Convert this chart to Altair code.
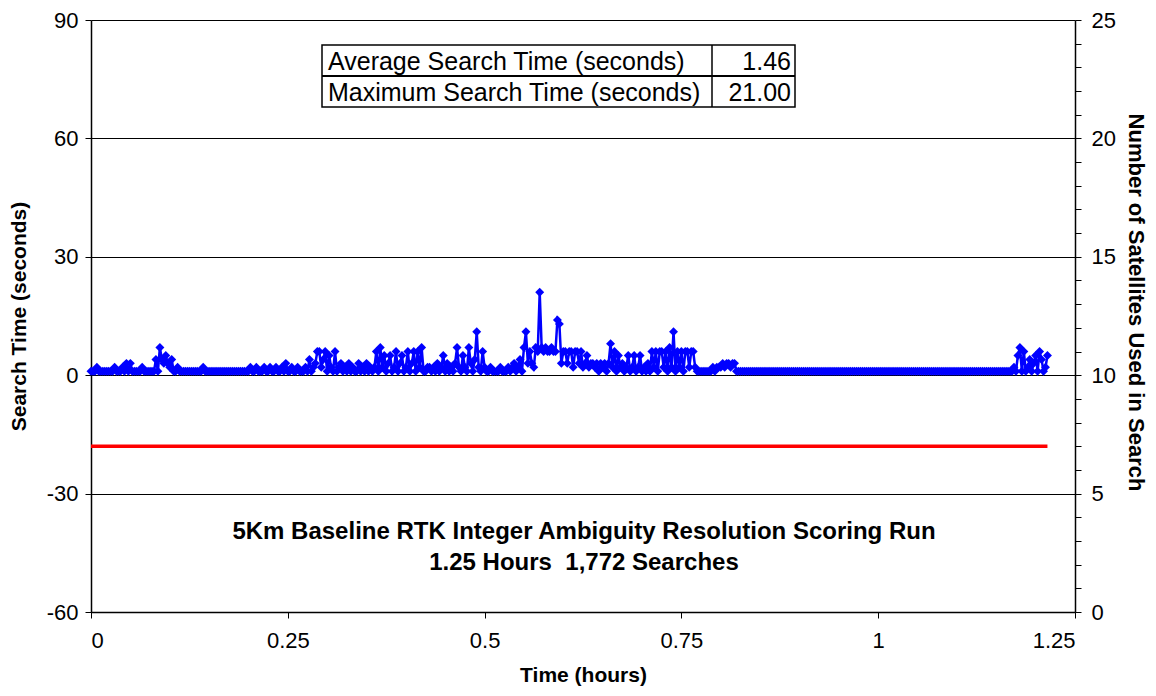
import altair as alt
import pandas as pd

# ---- data ----
TIME_STEP_HOURS = 0.0025  # spacing of the sampled searches along the time axis
SEARCH_SECONDS = [
    1, 1, 1, 2, 1, 1, 1, 1, 1, 1, 1, 1, 2, 1, 1, 1, 2, 1, 3, 1,
    3, 1, 1, 1, 1, 1, 2, 1, 1, 1, 1, 1, 1, 4, 1, 7, 4, 3, 5, 3,
    2, 4, 1, 1, 2, 1, 1, 1, 1, 1, 1, 1, 1, 1, 1, 1, 1, 2, 1, 1,
    1, 1, 1, 1, 1, 1, 1, 1, 1, 1, 1, 1, 1, 1, 1, 1, 1, 1, 1, 1,
    1, 2, 1, 1, 2, 1, 1, 1, 2, 1, 1, 2, 1, 1, 2, 1, 1, 2, 1, 3,
    1, 1, 2, 1, 1, 2, 1, 1, 1, 2, 1, 4, 1, 2, 3, 6, 6, 2, 4, 6,
    1, 5, 2, 1, 6, 1, 2, 3, 1, 2, 1, 3, 1, 2, 1, 1, 3, 1, 2, 1,
    3, 1, 2, 1, 2, 6, 1, 7, 2, 5, 1, 3, 5, 1, 2, 6, 1, 3, 5, 1,
    2, 6, 1, 3, 6, 1, 6, 2, 7, 1, 1, 2, 2, 1, 2, 1, 3, 1, 2, 5,
    1, 3, 1, 2, 1, 3, 7, 2, 1, 5, 2, 1, 7, 3, 1, 4, 11, 2, 1, 6,
    2, 1, 1, 2, 1, 1, 1, 1, 2, 1, 1, 1, 2, 1, 2, 3, 1, 2, 4, 1,
    7, 11, 3, 6, 3, 2, 7, 6, 21, 7, 6, 7, 6, 6, 7, 6, 6, 14, 13, 3,
    6, 6, 3, 6, 6, 2, 6, 6, 3, 6, 2, 3, 5, 2, 3, 3, 2, 3, 1, 3,
    2, 3, 1, 3, 8, 2, 6, 1, 5, 2, 3, 1, 2, 5, 1, 2, 5, 1, 2, 5,
    1, 2, 1, 3, 1, 6, 2, 6, 1, 6, 6, 2, 6, 1, 7, 2, 11, 1, 6, 2,
    6, 1, 6, 6, 2, 6, 6, 2, 1, 1, 1, 1, 1, 1, 1, 1, 2, 1, 2, 2,
    2, 3, 2, 3, 3, 2, 3, 3, 1, 1, 1, 1, 1, 1, 1, 1, 1, 1, 1, 1,
    1, 1, 1, 1, 1, 1, 1, 1, 1, 1, 1, 1, 1, 1, 1, 1, 1, 1, 1, 1,
    1, 1, 1, 1, 1, 1, 1, 1, 1, 1, 1, 1, 1, 1, 1, 1, 1, 1, 1, 1,
    1, 1, 1, 1, 1, 1, 1, 1, 1, 1, 1, 1, 1, 1, 1, 1, 1, 1, 1, 1,
    1, 1, 1, 1, 1, 1, 1, 1, 1, 1, 1, 1, 1, 1, 1, 1, 1, 1, 1, 1,
    1, 1, 1, 1, 1, 1, 1, 1, 1, 1, 1, 1, 1, 1, 1, 1, 1, 1, 1, 1,
    1, 1, 1, 1, 1, 1, 1, 1, 1, 1, 1, 1, 1, 1, 1, 1, 1, 1, 1, 1,
    1, 1, 1, 1, 1, 1, 1, 1, 1, 2, 1, 5, 7, 1, 6, 1, 2, 4, 1, 3,
    5, 1, 6, 4, 1, 2, 5,
]
SATELLITES_USED = 7

X_TICKS = [0, 0.25, 0.5, 0.75, 1, 1.25]
Y_LEFT_TICKS = [-60, -30, 0, 30, 60, 90]
Y_RIGHT_TICKS = list(range(0, 26))

TABLE_LABELS = ["Average Search Time (seconds)", "Maximum Search Time (seconds)"]
TABLE_VALUES = ["1.46", "21.00"]
NOTE_LINES = ["5Km Baseline RTK Integer Ambiguity Resolution Scoring Run",
              "1.25 Hours\u00a0\u00a01,772 Searches"]

df = pd.DataFrame({
    "t": [i * TIME_STEP_HOURS for i in range(len(SEARCH_SECONDS))],
    "v": SEARCH_SECONDS,
})
df["sats"] = SATELLITES_USED

FONT = "Liberation Sans"
W, H = 984, 592
PAD_TOP = 12
PAD_BOTTOM = 76

x_enc = alt.X("t:Q", scale=alt.Scale(domain=[0, 1.25], nice=False),
              axis=alt.Axis(values=X_TICKS, title="Time (hours)", grid=False,
                            labelExpr="format(datum.value, '~g')",
                            labelPadding=12, titlePadding=13))

blue = alt.Chart(df).mark_line(
    color="#0000FF", strokeWidth=2.5,
    point=alt.OverlayMarkDef(shape="diamond", size=80, filled=True, color="#0000FF"),
).encode(
    x=x_enc,
    y=alt.Y("v:Q", scale=alt.Scale(domain=[-60, 90], nice=False),
            axis=alt.Axis(values=Y_LEFT_TICKS, title="Search Time (seconds)",
                          labelExpr="datum.value < 0 ? '-' + abs(datum.value) : '' + datum.value",
                          grid=True, gridColor="#000000", gridWidth=1, gridOpacity=1,
                          labelPadding=7, titlePadding=17)),
)

red = alt.Chart(df).mark_line(color="#FF0000", strokeWidth=3.5).encode(
    x=alt.X("t:Q", scale=alt.Scale(domain=[0, 1.25], nice=False)),
    y=alt.Y("sats:Q", scale=alt.Scale(domain=[0, 25], nice=False),
            axis=alt.Axis(orient="right", values=Y_RIGHT_TICKS,
                          title="Number of Satellites Used in Search",
                          labelExpr="datum.value % 5 == 0 ? '' + datum.value : ''",
                          grid=False, labelPadding=10, titlePadding=8,
                          titleFontSize=22, titleY=282)),
)

# ---- summary table ----
tbl_x0, tbl_x1, tbl_xdiv = 231, 704, 621
tbl_y0, row_h = 25, 31
table_layers = [
    alt.Chart(pd.DataFrame({"a": [0]})).mark_rect(fill="white", stroke="black", strokeWidth=1.5).encode(
        x=alt.value(tbl_x0), x2=alt.value(tbl_x1),
        y=alt.value(tbl_y0), y2=alt.value(tbl_y0 + 2 * row_h)),
    alt.Chart(pd.DataFrame({"a": [0]})).mark_rule(color="black", strokeWidth=2).encode(
        x=alt.value(tbl_x0), x2=alt.value(tbl_x1), y=alt.value(tbl_y0 + row_h)),
    alt.Chart(pd.DataFrame({"a": [0]})).mark_rule(color="black", strokeWidth=1.5).encode(
        x=alt.value(tbl_xdiv), y=alt.value(tbl_y0), y2=alt.value(tbl_y0 + 2 * row_h)),
]
for i, (lab, val) in enumerate(zip(TABLE_LABELS, TABLE_VALUES)):
    cy = tbl_y0 + row_h * i + row_h / 2 + 1
    table_layers.append(
        alt.Chart(pd.DataFrame({"s": [lab]})).mark_text(
            align="left", baseline="middle", font=FONT, fontSize=25, color="black"
        ).encode(text="s:N", x=alt.value(tbl_x0 + 6), y=alt.value(cy)))
    table_layers.append(
        alt.Chart(pd.DataFrame({"s": [val]})).mark_text(
            align="right", baseline="middle", font=FONT, fontSize=25, color="black"
        ).encode(text="s:N", x=alt.value(tbl_x1 - 4), y=alt.value(cy)))

note_layers = []
for i, line in enumerate(NOTE_LINES):
    note_layers.append(
        alt.Chart(pd.DataFrame({"s": [line]})).mark_text(
            align="center", baseline="middle", font=FONT, fontSize=24,
            fontWeight="bold", color="black"
        ).encode(text="s:N", x=alt.value(493), y=alt.value(512 + 31 * i)))

chart = alt.layer(blue, red, *table_layers, *note_layers).resolve_scale(
    y="independent"
).properties(
    width=W, height=H,
    autosize=alt.AutoSizeParams(type="none"),
    padding={"left": 83, "top": PAD_TOP, "right": 73, "bottom": PAD_BOTTOM},
    background="white",
).configure_view(stroke=None).configure_axis(
    labelFont=FONT, titleFont=FONT, labelFontSize=22, titleFontSize=21,
    labelColor="black", titleColor="black", titleFontWeight="bold",
    domainColor="#000000", tickColor="#000000", domainWidth=1.5, tickSize=6,
)

chart.save("out.html", embed_options={"renderer": "svg", "actions": False})
